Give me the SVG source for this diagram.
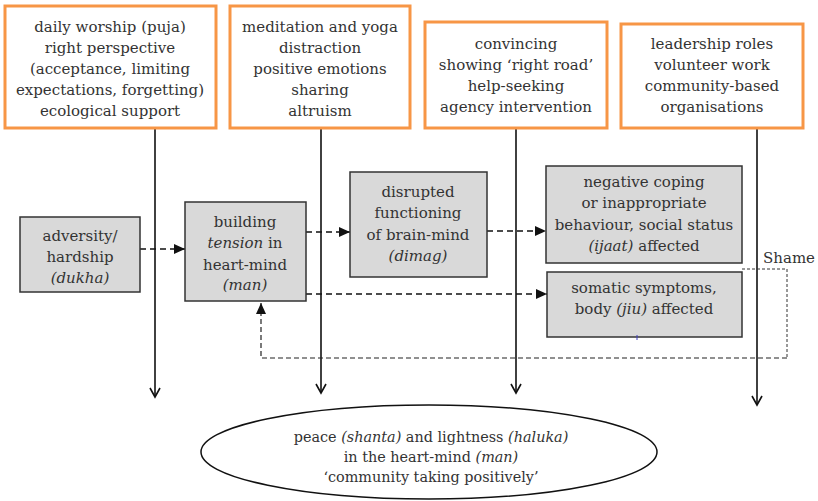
<svg xmlns="http://www.w3.org/2000/svg" width="818" height="501" viewBox="0 0 818 501">
<style>
text{font-family:'DejaVu Serif',serif;font-size:15px;fill:#333;text-anchor:middle}
.o{fill:#fff;stroke:#f79646;stroke-width:3}
.g{fill:#d9d9d9;stroke:#333;stroke-width:1.5}
.v{stroke:#111;stroke-width:1.6;fill:none}
.d{stroke:#111;stroke-width:1.6;fill:none;stroke-dasharray:6,4}
.f{stroke:#333;stroke-width:1;fill:none;stroke-dasharray:3,2}
.fd{stroke:#222;stroke-width:1.2;fill:none;stroke-dasharray:5,3}
.e{font-size:14.4px}
</style>
<defs>
<marker id="open" markerWidth="12" markerHeight="12" refX="10" refY="6" orient="auto" markerUnits="userSpaceOnUse"><path d="M1,1 L10,6 L1,11" fill="none" stroke="#111" stroke-width="1.6"/></marker>
<marker id="tri" markerWidth="12" markerHeight="12" refX="11" refY="6" orient="auto" markerUnits="userSpaceOnUse"><path d="M0,1 L11,6 L0,11 z" fill="#111"/></marker>
</defs>
<g id="connectors">
<path class="v" d="M155,128 V397" marker-end="url(#open)"/>
<path class="v" d="M321,128 V393" marker-end="url(#open)"/>
<path class="v" d="M516,128 V393" marker-end="url(#open)"/>
<path class="v" d="M757,128 V405" marker-end="url(#open)"/>
<path class="d" d="M140,249 H185" marker-end="url(#tri)"/>
<path class="d" d="M306,232 H350" marker-end="url(#tri)"/>
<path class="d" d="M487,231 H546" marker-end="url(#tri)"/>
<path class="d" d="M306,294 H547" marker-end="url(#tri)"/>
<path class="f" d="M742,269 H787 V358"/>
<path class="fd" d="M787,358 H261 V303" marker-end="url(#tri)"/>
<text x="763" y="263" style="text-anchor:start">Shame</text>
</g>
<g id="n1"><rect class="o" x="5" y="6" width="211" height="122"/>
<text x="110" y="32">daily worship (puja)</text><text x="110" y="53">right perspective</text><text x="110" y="74">(acceptance,  limiting</text><text x="110" y="95">expectations, forgetting)</text><text x="110" y="116">ecological support</text></g>
<g id="n2"><rect class="o" x="230" y="6" width="180" height="122"/>
<text x="320" y="32">meditation and yoga</text><text x="320" y="53">distraction</text><text x="320" y="74">positive emotions</text><text x="320" y="95">sharing</text><text x="320" y="116">altruism</text></g>
<g id="n3"><rect class="o" x="425" y="22" width="182" height="106"/>
<text x="516" y="49">convincing</text><text x="516" y="70">showing ‘right road’</text><text x="516" y="91">help-seeking</text><text x="516" y="112">agency intervention</text></g>
<g id="n4"><rect class="o" x="621" y="24" width="182" height="104"/>
<text x="712" y="49">leadership roles</text><text x="712" y="70">volunteer work</text><text x="712" y="91">community-based</text><text x="712" y="112">organisations</text></g>
<g id="n5"><rect class="g" x="20" y="217" width="120" height="75"/>
<text x="80" y="241">adversity/</text><text x="80" y="262">hardship</text><text x="80" y="283"><tspan font-style="italic">(dukha)</tspan></text></g>
<g id="n6"><rect class="g" x="185" y="202" width="121" height="99"/>
<text x="245" y="227">building</text><text x="245" y="248"><tspan font-style="italic">tension</tspan> in</text><text x="245" y="270">heart-mind</text><text x="245" y="290" font-style="italic">(man)</text></g>
<g id="n7"><rect class="g" x="350" y="172" width="137" height="105"/>
<text x="418" y="197">disrupted</text><text x="418" y="218">functioning</text><text x="418" y="240">of brain-mind</text><text x="418" y="261" font-style="italic">(dimag)</text></g>
<g id="n8"><rect class="g" x="546" y="166" width="196" height="97"/>
<text x="644" y="187">negative coping</text><text x="644" y="208">or inappropriate</text><text x="644" y="230">behaviour, social status</text><text x="644" y="251"><tspan font-style="italic">(ijaat)</tspan> affected</text></g>
<g id="n9"><rect class="g" x="547" y="272" width="195" height="65"/>
<text x="644" y="293">somatic symptoms,</text><text x="644" y="314">body <tspan font-style="italic">(jiu)</tspan> affected</text>
<path d="M637,335 V340" stroke="#4040c0" stroke-width="1"/></g>
<g id="n10"><ellipse cx="429" cy="452" rx="228" ry="47" fill="#fff" stroke="#111" stroke-width="1.5"/>
<text class="e" x="431" y="442">peace <tspan font-style="italic">(shanta)</tspan> and lightness <tspan font-style="italic">(haluka)</tspan></text>
<text class="e" x="431" y="462">in the heart-mind <tspan font-style="italic">(man)</tspan></text>
<text class="e" x="431" y="482">‘community taking positively’</text></g>
</svg>
